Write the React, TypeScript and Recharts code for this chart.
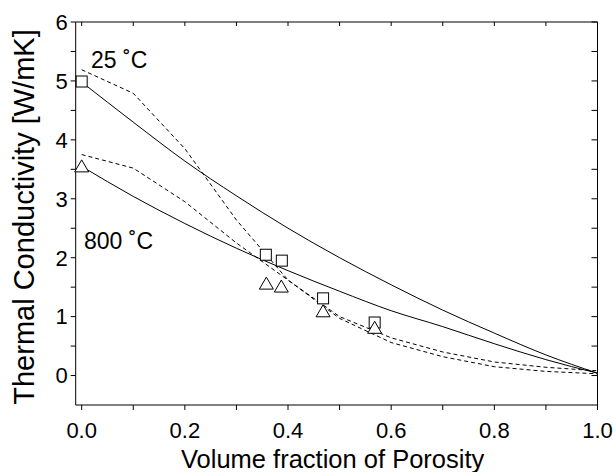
import { ComposedChart, Line, Scatter, XAxis, YAxis } from 'recharts';

// the page only holds the chart; drop the default body margin so nothing gets clipped
if (typeof document !== 'undefined') document.body.style.margin = '0';

// porosity grid used by the model curves
const porosityGrid = [0, 0.1, 0.2, 0.3, 0.4, 0.5, 0.6, 0.7, 0.8, 0.9, 1.0];

// solid curves
const solid25 = [4.98, 4.3, 3.64, 3.05, 2.5, 2.0, 1.54, 1.11, 0.72, 0.35, 0.04];
const solid800 = [3.55, 3.04, 2.58, 2.16, 1.78, 1.43, 1.1, 0.83, 0.54, 0.27, 0.04];

// dashed curves
const dashed25 = [5.19, 4.79, 3.85, 2.64, 1.62, 1.0, 0.64, 0.4, 0.23, 0.14, 0.08];
const dashed800 = [3.75, 3.52, 2.95, 2.25, 1.62, 0.97, 0.56, 0.32, 0.15, 0.07, 0.03];

// measured points
const porosity25 = [0, 0.357, 0.388, 0.468, 0.568];
const measured25 = [4.99, 2.05, 1.95, 1.31, 0.9];
const porosity800 = [0, 0.358, 0.387, 0.468, 0.568];
const measured800 = [3.55, 1.56, 1.51, 1.09, 0.81];

const xTicks = [0, 0.1, 0.2, 0.3, 0.4, 0.5, 0.6, 0.7, 0.8, 0.9, 1.0];
const yTicks = [0, 0.5, 1, 1.5, 2, 2.5, 3, 3.5, 4, 4.5, 5, 5.5, 6];

const X_MIN = -0.0116;
const X_MAX = 1.0;
const Y_MIN = -0.5;
const Y_MAX = 6;

const W = 613;
const H = 472;
const MARGIN = { top: 22, right: 15.5, left: 15.7, bottom: 5 };
const Y_AXIS_W = 60;
const X_AXIS_H = 62;

const toPoints = (xs: number[], ys: number[]) => xs.map((x, i) => ({ x, y: ys[i] }));

const FONT = '"Liberation Sans", Arial, Helvetica, sans-serif';

const Square = (props: any) => {
  const { cx, cy } = props;
  return <rect x={cx - 5.5} y={cy - 5.5} width={11} height={11} fill='#fff' stroke='#000' strokeWidth={1} />;
};

const Triangle = (props: any) => {
  const { cx, cy } = props;
  return (
    <polygon
      points={`${cx},${cy - 6.5} ${cx - 7},${cy + 5.5} ${cx + 7},${cy + 5.5}`}
      fill='#fff'
      stroke='#000'
      strokeWidth={1}
    />
  );
};

// plot box, same geometry the axes use
const boxLeft = MARGIN.left + Y_AXIS_W;
const boxRight = W - MARGIN.right;
const boxTop = MARGIN.top;
const boxBottom = H - MARGIN.bottom - X_AXIS_H;
const sx = (v: number) => boxLeft + ((v - X_MIN) / (X_MAX - X_MIN)) * (boxRight - boxLeft);
const sy = (v: number) => boxBottom - ((v - Y_MIN) / (Y_MAX - Y_MIN)) * (boxBottom - boxTop);

const xFmt = (v: number) => (Math.round(v * 10) % 2 === 0 ? v.toFixed(1) : '');
const yFmt = (v: number) => (Number.isInteger(v) ? String(v) : '');

// top/right edges of the box with inward ticks, drawn as an overlay
const FrameOverlay = () => (
  <svg
    width={W}
    height={H}
    style={{ position: 'absolute', left: 0, top: 0, pointerEvents: 'none', overflow: 'visible' }}
  >
    <g stroke='#000' strokeWidth={1} fill='none'>
      <line x1={boxLeft} y1={boxTop} x2={boxRight} y2={boxTop} />
      <line x1={boxRight} y1={boxTop} x2={boxRight} y2={boxBottom} />
      {xTicks.map((t) => (
        <line key={`tx${t}`} x1={sx(t)} y1={boxTop} x2={sx(t)} y2={boxTop + 4} />
      ))}
      {yTicks.map((t) => (
        <line key={`ty${t}`} x1={boxRight} y1={sy(t)} x2={boxRight - 6} y2={sy(t)} />
      ))}
    </g>
  </svg>
);

export default function App() {
  return (
    <div style={{ position: 'relative', width: W, height: H }}>
      <ComposedChart width={W} height={H} margin={MARGIN} style={{ fontFamily: FONT }}>
        <XAxis
          type='number'
          dataKey='x'
          domain={[X_MIN, X_MAX]}
          ticks={xTicks}
          tickFormatter={xFmt}
          height={X_AXIS_H}
          tickSize={5}
          tickMargin={12}
          stroke='#000'
          tick={{ fill: '#000', fontSize: 22 }}
          label={{ value: 'Volume fraction of Porosity', position: 'insideBottom', offset: -1, dx: -4, fill: '#000', fontSize: 25.5 }}
        />
        <YAxis
          type='number'
          dataKey='y'
          domain={[Y_MIN, Y_MAX]}
          ticks={yTicks}
          tickFormatter={yFmt}
          width={Y_AXIS_W}
          tickSize={5}
          tickMargin={3}
          stroke='#000'
          tick={{ fill: '#000', fontSize: 22 }}
        />
        <Line data={toPoints(porosityGrid, solid25)} dataKey='y' type='monotone' stroke='#000' strokeWidth={1} dot={false} isAnimationActive={false} />
        <Line data={toPoints(porosityGrid, solid800)} dataKey='y' type='monotone' stroke='#000' strokeWidth={1} dot={false} isAnimationActive={false} />
        <Line data={toPoints(porosityGrid, dashed25)} dataKey='y' type='linear' stroke='#000' strokeWidth={1} strokeDasharray='4 3' dot={false} isAnimationActive={false} />
        <Line data={toPoints(porosityGrid, dashed800)} dataKey='y' type='linear' stroke='#000' strokeWidth={1} strokeDasharray='4 3' dot={false} isAnimationActive={false} />
        <Scatter data={toPoints(porosity25, measured25)} dataKey='y' shape={Square} isAnimationActive={false} />
        <Scatter data={toPoints(porosity800, measured800)} dataKey='y' shape={Triangle} isAnimationActive={false} />
        <text x={91} y={68.3} fontSize={23} fill='#000' fontFamily={FONT}>25 ˚C</text>
        <text x={84} y={249} fontSize={23} fill='#000' fontFamily={FONT}>800 ˚C</text>
        <text transform='translate(34, 217) rotate(-90)' textAnchor='middle' fontSize={29} fill='#000' fontFamily={FONT}>
          Thermal Conductivity [W/mK]
        </text>
      </ComposedChart>
      <FrameOverlay />
    </div>
  );
}
